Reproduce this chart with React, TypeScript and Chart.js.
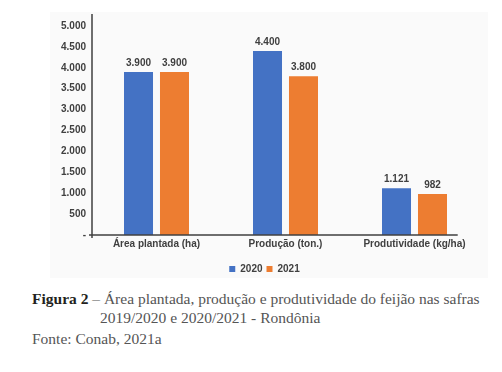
import React, { useEffect, useRef, useState } from "react";
import { Chart, registerables } from "chart.js";

Chart.register(...registerables);

const categories = ["Área plantada (ha)", "Produção (ton.)", "Produtividade (kg/ha)"];
const series2020 = [3900, 4400, 1121];
const series2021 = [3900, 3800, 982];
const seriesLabels = ["2020", "2021"];
const yMax = 5000;
const yStep = 500;

const BLUE = "#4472C4";
const ORANGE = "#ED7D31";
const TEXT = "#404040";
const SANS = "'Liberation Sans', Arial, sans-serif";

function fmt(v: number): string {
  return String(Math.round(v)).replace(/\B(?=(\d{3})+(?!\d))/g, ".");
}

const axisLines = {
  id: "axisLines",
  afterDraw(chart: any) {
    const { ctx, chartArea } = chart;
    const { left, right, top, bottom } = chartArea;
    ctx.save();
    ctx.strokeStyle = TEXT;
    ctx.lineWidth = 1.5;
    ctx.beginPath();
    ctx.moveTo(left, top - 12);
    ctx.lineTo(left, bottom + 3);
    ctx.moveTo(left - 3, bottom);
    ctx.lineTo(left + (right - left) * 0.945, bottom);
    ctx.stroke();
    ctx.restore();
  },
};

const barLabels = {
  id: "barLabels",
  afterDatasetsDraw(chart: any) {
    const { ctx } = chart;
    ctx.save();
    ctx.font = `bold 10px ${SANS}`;
    ctx.fillStyle = TEXT;
    ctx.textAlign = "center";
    ctx.textBaseline = "bottom";
    chart.data.datasets.forEach((ds: any, i: number) => {
      const meta = chart.getDatasetMeta(i);
      meta.data.forEach((bar: any, j: number) => {
        ctx.fillText(fmt(ds.data[j]), bar.x, bar.y - 4);
      });
    });
    ctx.restore();
  },
};

function BarChart() {
  const ref = useRef<HTMLCanvasElement | null>(null);
  const [err, setErr] = useState("");
  useEffect(() => {
    if (!ref.current) return;
    let chart: any = null;
    try {
      chart = new Chart(ref.current, {
        type: "bar",
        data: {
          labels: categories,
          datasets: [
            {
              label: seriesLabels[0],
              data: series2020,
              backgroundColor: BLUE,
              categoryPercentage: 0.558,
              barPercentage: 0.806,
            },
            {
              label: seriesLabels[1],
              data: series2021,
              backgroundColor: ORANGE,
              categoryPercentage: 0.558,
              barPercentage: 0.806,
            },
          ],
        },
        options: {
          animation: false,
          responsive: false,
          maintainAspectRatio: false,
          layout: { padding: { top: 14, right: 9, left: 0, bottom: 0 } },
          plugins: {
            tooltip: { enabled: false },
            legend: {
              position: "bottom",
              labels: {
                boxWidth: 6,
                boxHeight: 6,
                padding: 4,
                color: TEXT,
                font: { family: SANS, size: 10, weight: "bold" },
              },
            },
          },
          scales: {
            x: {
              grid: { display: false, drawTicks: false },
              border: { display: false },
              ticks: {
                color: TEXT,
                font: { family: SANS, size: 10, weight: "bold" },
                padding: 3,
                maxRotation: 0,
              },
              afterFit: (s: any) => {
                s.height = 25;
              },
            },
            y: {
              min: 0,
              max: yMax,
              grid: { display: false, drawTicks: false },
              border: { display: false },
              ticks: {
                stepSize: yStep,
                color: TEXT,
                font: { family: SANS, size: 10, weight: "bold" },
                padding: 6,
                callback: (v: any) => (Number(v) === 0 ? "-" : fmt(Number(v))),
              },
              afterFit: (s: any) => {
                s.width = 42;
              },
            },
          },
        },
        plugins: [axisLines, barLabels],
      } as any);
    } catch (e: any) {
      setErr(String(e && e.stack ? e.stack : e));
    }
    return () => {
      if (chart) chart.destroy();
    };
  }, []);
  return (
    <div
      style={{
        position: "absolute",
        left: 50,
        top: 12,
        width: 438,
        height: 266,
        background: "#fafafa",
      }}
    >
      <canvas ref={ref} width={438} height={272} style={{ display: "block" }} />
      {err ? <pre style={{ position: "absolute", top: 0, left: 0, fontSize: 9 }}>{err}</pre> : null}
    </div>
  );
}

export default function App() {
  const serif = "'Liberation Serif', 'Times New Roman', serif";
  return (
    <div style={{ height: 356 }}>
      <BarChart />
      <div
        style={{
          position: "absolute",
          left: 32,
          top: 289,
          fontFamily: serif,
          fontSize: 15.5,
          lineHeight: "19px",
          color: "#555555",
          whiteSpace: "nowrap",
        }}
      >
        <div>
          <b style={{ color: "#231f20" }}>Figura 2</b> – Área plantada, produção e produtividade do feijão nas safras
        </div>
        <div style={{ paddingLeft: 68 }}>2019/2020 e 2020/2021 - Rondônia</div>
        <div style={{ marginTop: 2 }}>Fonte: Conab, 2021a</div>
      </div>
    </div>
  );
}
